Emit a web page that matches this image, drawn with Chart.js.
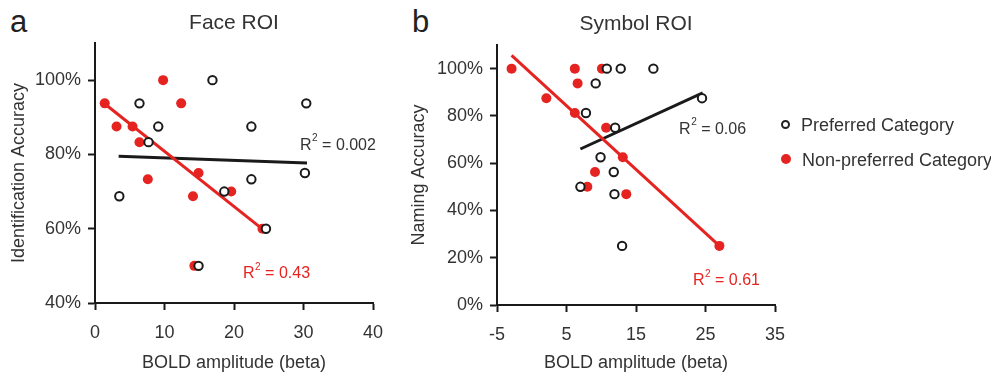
<!DOCTYPE html>
<html>
<head>
<meta charset="utf-8">
<script src="https://cdn.jsdelivr.net/npm/chart.js@4/dist/chart.umd.min.js"></script>
<style>
  body { margin: 0; background: #fff; width: 991px; height: 374px; overflow: hidden; position: relative;
         font-family: Arial, "Liberation Sans", Helvetica, sans-serif; color: #333; }
  canvas { position: absolute; top: 0; }
  #chart-a { left: 0; }
  #chart-b { left: 400px; }
  .panel { position: absolute; top: 6px; font-size: 31px; line-height: 1; color: #222; }
  .leg { position: absolute; left: 781px; font-size: 18px; line-height: 20px; color: #333; white-space: nowrap; }
  .leg i { display: inline-block; vertical-align: middle; box-sizing: border-box; border-radius: 50%; margin-right: 11px; position: relative; top: -2px; }
  .leg .open { width: 9px; height: 9px; border: 2px solid #222; background: #fff; }
  .leg .fill { width: 10px; height: 10px; background: #e52421; }
</style>
</head>
<body>
<div class="panel" style="left:10px">a</div>
<div class="panel" style="left:412px">b</div>
<canvas id="chart-a" width="400" height="374"></canvas>
<canvas id="chart-b" width="591" height="374"></canvas>
<div class="leg" style="top:115px"><i class="open"></i>Preferred Category</div>
<div class="leg" style="top:150px"><i class="fill"></i>Non-preferred Category</div>
<script>
// ── Face ROI (panel a) ──
const facePrefX = [16.9, 6.4, 30.4, 9.1, 22.5, 7.7, 30.2, 22.5, 3.5, 18.6, 24.6, 14.9];
const facePrefY = [100, 93.75, 93.75, 87.5, 87.5, 83.3, 75, 73.3, 68.75, 70, 60, 50];
const faceNonX  = [1.4, 9.8, 12.4, 3.1, 5.4, 6.4, 7.6, 14.9, 14.1, 19.6, 24.1, 14.3];
const faceNonY  = [93.75, 100, 93.75, 87.5, 87.5, 83.3, 73.3, 75, 68.75, 70, 60, 50];
const faceFitPrefX = [3.4, 30.5];
const faceFitPrefY = [79.5, 77.7];
const faceFitNonX  = [1.2, 24.1];
const faceFitNonY  = [93.9, 59.9];
const faceXTicks = [0, 10, 20, 30, 40];
const faceYTicks = [40, 60, 80, 100];

// ── Symbol ROI (panel b) ──
const symPrefX = [10.8, 12.8, 17.5, 9.2, 24.5, 7.8, 12.0, 9.9, 11.8, 7.0, 11.9, 13.0];
const symPrefY = [100, 100, 100, 93.75, 87.5, 81.25, 75, 62.5, 56.25, 50, 46.9, 25];
const symNonX  = [-2.9, 6.2, 10.1, 6.6, 2.1, 6.2, 10.7, 13.1, 9.1, 8.0, 13.6, 27.0];
const symNonY  = [100, 100, 100, 93.75, 87.5, 81.25, 75, 62.5, 56.25, 50, 46.9, 25];
const symFitPrefX = [7.0, 24.6];
const symFitPrefY = [66.0, 89.7];
const symFitNonX  = [-2.9, 27.0];
const symFitNonY  = [105.6, 25.0];
const symXTicks = [-5, 5, 15, 25, 35];
const symYTicks = [0, 20, 40, 60, 80, 100];

const RED = '#e52421';
const INK = '#1a1a1a';
const TXT = '#333';
const FONT = 'Arial, "Liberation Sans", Helvetica, sans-serif';

function pts(xs, ys) { return xs.map((x, i) => ({ x, y: ys[i] })); }

// R² annotations, superscript drawn by hand
const r2Plugin = {
  id: 'r2',
  afterDatasetsDraw(chart, args, opts) {
    const { ctx } = chart;
    const xs = chart.scales.x, ys = chart.scales.y;
    ctx.save();
    ctx.textBaseline = 'middle';
    (opts.labels || []).forEach(l => {
      const px = xs.getPixelForValue(l.x), py = ys.getPixelForValue(l.y);
      ctx.fillStyle = l.color;
      ctx.font = '16px ' + FONT;
      ctx.fillText('R', px, py);
      const w = ctx.measureText('R').width;
      ctx.font = '10px ' + FONT;
      ctx.fillText('2', px + w + 0.5, py - 7);
      const w2 = ctx.measureText('2').width;
      ctx.font = '16px ' + FONT;
      ctx.fillText(' = ' + l.text, px + w + 0.5 + w2, py);
    });
    ctx.restore();
  }
};

function axis(opts) {
  return {
    type: 'linear',
    min: opts.min, max: opts.max,
    afterBuildTicks: s => { s.ticks = opts.ticks.map(v => ({ value: v })); },
    afterFit: s => { if (opts.width) s.width = opts.width; if (opts.height) s.height = opts.height; },
    border: { display: true, color: INK, width: 2 },
    grid: { display: true, drawOnChartArea: false, drawTicks: true, tickLength: 7, tickWidth: 2, tickColor: INK },
    ticks: { color: TXT, font: { size: 18, family: FONT }, padding: opts.tickPad,
             callback: opts.fmt || (v => v) },
    title: { display: true, text: opts.title, color: TXT, font: { size: 18, family: FONT }, padding: opts.titlePad }
  };
}

function makeChart(id, cfg) {
  return new Chart(document.getElementById(id), {
    type: 'scatter',
    data: {
      datasets: [
        { label: 'Preferred Category', data: pts(cfg.prefX, cfg.prefY), order: 0,
          pointRadius: 4.2, pointBorderWidth: 2, pointBorderColor: INK, pointBackgroundColor: '#fff' },
        { label: 'Non-preferred Category', data: pts(cfg.nonX, cfg.nonY), order: 1,
          pointRadius: 5, pointBorderWidth: 0, pointBackgroundColor: RED },
        { label: 'fit non', data: pts(cfg.fitNonX, cfg.fitNonY), order: 2, showLine: true,
          borderColor: RED, borderWidth: 3, pointRadius: 0 },
        { label: 'fit pref', data: pts(cfg.fitPrefX, cfg.fitPrefY), order: 3, showLine: true,
          borderColor: INK, borderWidth: 3, pointRadius: 0 }
      ]
    },
    options: {
      responsive: false, animation: false,
      layout: { padding: { left: 0, right: cfg.padRight, top: 0, bottom: 0 } },
      plugins: {
        legend: { display: false },
        tooltip: { enabled: false },
        title: { display: true, text: cfg.title, fullSize: false, color: TXT,
                 font: { size: 21, family: FONT, weight: 'normal' }, padding: cfg.titlePad },
        r2: { labels: cfg.r2 }
      },
      scales: {
        x: axis({ min: cfg.xTicks[0], max: cfg.xTicks[cfg.xTicks.length - 1], ticks: cfg.xTicks,
                  height: cfg.xHeight, tickPad: 12, title: 'BOLD amplitude (beta)', titlePad: { top: 0, bottom: 0 } }),
        y: axis({ min: cfg.yTicks[0], max: 110, ticks: cfg.yTicks, width: cfg.yWidth, tickPad: 7,
                  fmt: v => v + '%', title: cfg.yTitle, titlePad: { top: 8, bottom: 0 } })
      }
    },
    plugins: [r2Plugin]
  });
}

makeChart('chart-a', {
  title: 'Face ROI', yTitle: 'Identification Accuracy',
  prefX: facePrefX, prefY: facePrefY, nonX: faceNonX, nonY: faceNonY,
  fitPrefX: faceFitPrefX, fitPrefY: faceFitPrefY, fitNonX: faceFitNonX, fitNonY: faceFitNonY,
  xTicks: faceXTicks, yTicks: faceYTicks,
  padRight: 27, yWidth: 95, xHeight: 71, titlePad: { top: 11, bottom: 6.8 },
  r2: [ { x: 29.5, y: 82.4, text: '0.002', color: '#333' },
        { x: 21.3, y: 47.8, text: '0.43', color: RED } ]
});

makeChart('chart-b', {
  title: 'Symbol ROI', yTitle: 'Naming Accuracy',
  prefX: symPrefX, prefY: symPrefY, nonX: symNonX, nonY: symNonY,
  fitPrefX: symFitPrefX, fitPrefY: symFitPrefY, fitNonX: symFitNonX, fitNonY: symFitNonY,
  xTicks: symXTicks, yTicks: symYTicks,
  padRight: 216, yWidth: 97, xHeight: 69, titlePad: { top: 12, bottom: 7.8 },
  r2: [ { x: 21.2, y: 74.2, text: '0.06', color: '#333' },
        { x: 23.2, y: 10.2, text: '0.61', color: RED } ]
});
</script>
</body>
</html>
